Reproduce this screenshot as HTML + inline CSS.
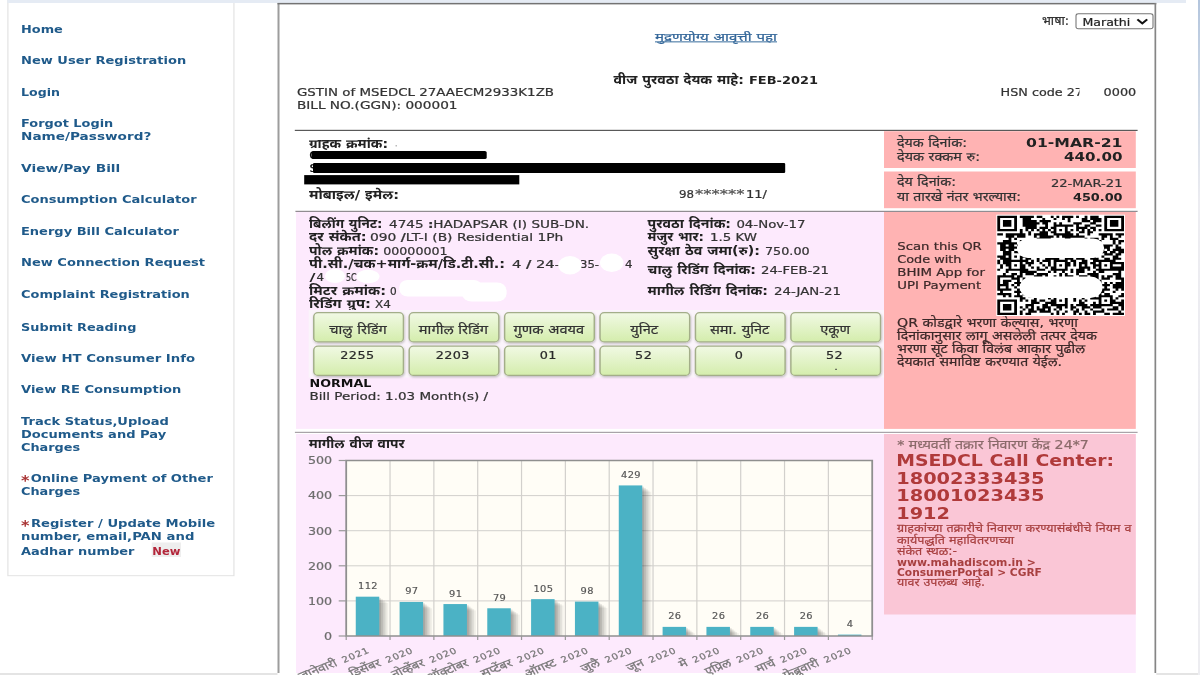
<!DOCTYPE html>
<html lang="mr"><head><meta charset="utf-8"><title>MSEDCL - View/Pay Bill</title>
<style>
html,body{margin:0;padding:0;background:#fff;overflow:hidden;width:1200px;height:675px}
svg{display:block}
</style></head><body>
<svg width="1200" height="675" viewBox="0 0 1200 675">
<defs>
<linearGradient id="rs" x1="0" y1="0" x2="0" y2="1"><stop offset="0" stop-color="#b3c5dd"/><stop offset="0.16" stop-color="#d3dce8"/><stop offset="0.3" stop-color="#ececf1"/><stop offset="1" stop-color="#ededf1"/></linearGradient>
<linearGradient id="cg" x1="0" y1="0" x2="0" y2="1">
<stop offset="0" stop-color="#f1f9e4"/><stop offset="1" stop-color="#d4edac"/>
</linearGradient>
<filter id="sh" x="-10%" y="-10%" width="120%" height="140%">
<feDropShadow dx="0.5" dy="1.2" stdDeviation="0.8" flood-color="#000" flood-opacity="0.25"/>
</filter>
</defs>
<g transform="scale(1.2 1)">
<rect x="998.33" y="0" width="1.67" height="675" fill="url(#rs)" />
<rect x="0.0" y="673" width="998.33" height="2" fill="#e4e4e4" />
<rect x="6.57" y="-2" width="188.36999999999998" height="577.7" fill="#fff" stroke="#e3e3e3" stroke-width="1"/>
<rect x="6.17" y="0" width="982.17" height="3" fill="#e5ebf4" />
<text x="17.5" y="33.0" textLength="34.83" lengthAdjust="spacingAndGlyphs" fill="#1f5a8a" style="font-family:'DejaVu Sans',Verdana,sans-serif;font-size:10.67px;font-weight:bold" >Home</text>
<text x="17.5" y="64.3" textLength="137.75" lengthAdjust="spacingAndGlyphs" fill="#1f5a8a" style="font-family:'DejaVu Sans',Verdana,sans-serif;font-size:10.67px;font-weight:bold" >New User Registration</text>
<text x="17.5" y="96.3" textLength="32.5" lengthAdjust="spacingAndGlyphs" fill="#1f5a8a" style="font-family:'DejaVu Sans',Verdana,sans-serif;font-size:10.67px;font-weight:bold" >Login</text>
<text x="17.5" y="127.5" textLength="76.92" lengthAdjust="spacingAndGlyphs" fill="#1f5a8a" style="font-family:'DejaVu Sans',Verdana,sans-serif;font-size:10.67px;font-weight:bold" >Forgot Login</text>
<text x="17.5" y="140.4" textLength="108.58" lengthAdjust="spacingAndGlyphs" fill="#1f5a8a" style="font-family:'DejaVu Sans',Verdana,sans-serif;font-size:10.67px;font-weight:bold" >Name/Password?</text>
<text x="17.5" y="172.2" textLength="82.75" lengthAdjust="spacingAndGlyphs" fill="#1f5a8a" style="font-family:'DejaVu Sans',Verdana,sans-serif;font-size:10.67px;font-weight:bold" >View/Pay Bill</text>
<text x="17.5" y="203.5" textLength="146.33" lengthAdjust="spacingAndGlyphs" fill="#1f5a8a" style="font-family:'DejaVu Sans',Verdana,sans-serif;font-size:10.67px;font-weight:bold" >Consumption Calculator</text>
<text x="17.5" y="235.3" textLength="131.58" lengthAdjust="spacingAndGlyphs" fill="#1f5a8a" style="font-family:'DejaVu Sans',Verdana,sans-serif;font-size:10.67px;font-weight:bold" >Energy Bill Calculator</text>
<text x="17.5" y="266.4" textLength="153.33" lengthAdjust="spacingAndGlyphs" fill="#1f5a8a" style="font-family:'DejaVu Sans',Verdana,sans-serif;font-size:10.67px;font-weight:bold" >New Connection Request</text>
<text x="17.5" y="298.3" textLength="140.67" lengthAdjust="spacingAndGlyphs" fill="#1f5a8a" style="font-family:'DejaVu Sans',Verdana,sans-serif;font-size:10.67px;font-weight:bold" >Complaint Registration</text>
<text x="17.5" y="330.6" textLength="96.17" lengthAdjust="spacingAndGlyphs" fill="#1f5a8a" style="font-family:'DejaVu Sans',Verdana,sans-serif;font-size:10.67px;font-weight:bold" >Submit Reading</text>
<text x="17.5" y="361.9" textLength="145.08" lengthAdjust="spacingAndGlyphs" fill="#1f5a8a" style="font-family:'DejaVu Sans',Verdana,sans-serif;font-size:10.67px;font-weight:bold" >View HT Consumer Info</text>
<text x="17.5" y="392.9" textLength="133.67" lengthAdjust="spacingAndGlyphs" fill="#1f5a8a" style="font-family:'DejaVu Sans',Verdana,sans-serif;font-size:10.67px;font-weight:bold" >View RE Consumption</text>
<text x="17.5" y="425.1" textLength="123.25" lengthAdjust="spacingAndGlyphs" fill="#1f5a8a" style="font-family:'DejaVu Sans',Verdana,sans-serif;font-size:10.67px;font-weight:bold" >Track Status,Upload</text>
<text x="17.5" y="438.2" textLength="121.0" lengthAdjust="spacingAndGlyphs" fill="#1f5a8a" style="font-family:'DejaVu Sans',Verdana,sans-serif;font-size:10.67px;font-weight:bold" >Documents and Pay</text>
<text x="17.5" y="451.0" textLength="49.33" lengthAdjust="spacingAndGlyphs" fill="#1f5a8a" style="font-family:'DejaVu Sans',Verdana,sans-serif;font-size:10.67px;font-weight:bold" >Charges</text>
<text x="17.5" y="495.2" textLength="49.33" lengthAdjust="spacingAndGlyphs" fill="#1f5a8a" style="font-family:'DejaVu Sans',Verdana,sans-serif;font-size:10.67px;font-weight:bold" >Charges</text>
<text x="17.5" y="539.7" textLength="144.5" lengthAdjust="spacingAndGlyphs" fill="#1f5a8a" style="font-family:'DejaVu Sans',Verdana,sans-serif;font-size:10.67px;font-weight:bold" >number, email,PAN and</text>
<text x="17.5" y="555.2" textLength="94.5" lengthAdjust="spacingAndGlyphs" fill="#1f5a8a" style="font-family:'DejaVu Sans',Verdana,sans-serif;font-size:10.67px;font-weight:bold" >Aadhar number</text>
<text x="25.58" y="482.3" textLength="151.83" lengthAdjust="spacingAndGlyphs" fill="#1f5a8a" style="font-family:'DejaVu Sans',Verdana,sans-serif;font-size:10.67px;font-weight:bold" >Online Payment of Other</text>
<text x="25.75" y="526.7" textLength="153.5" lengthAdjust="spacingAndGlyphs" fill="#1f5a8a" style="font-family:'DejaVu Sans',Verdana,sans-serif;font-size:10.67px;font-weight:bold" >Register / Update Mobile</text>
<text x="17.5" y="485.5" fill="#a83232" style="font-family:'DejaVu Sans',Verdana,sans-serif;font-size:13.5px;font-weight:bold">*</text>
<text x="17.5" y="529.9000000000001" fill="#a83232" style="font-family:'DejaVu Sans',Verdana,sans-serif;font-size:13.5px;font-weight:bold">*</text>
<rect x="126.42" y="542.5" width="24.42" height="14.5" fill="#eeeeee" />
<text x="126.92" y="555.2" textLength="23.42" lengthAdjust="spacingAndGlyphs" fill="#b3263a" style="font-family:'DejaVu Sans',Verdana,sans-serif;font-size:10.67px;font-weight:bold" >New</text>
<rect x="231.25" y="3" width="732.33" height="672" fill="#fff" />
<rect x="231.25" y="3" width="1.67" height="670" fill="#9d9d9d" />
<rect x="231.25" y="2.9" width="732.33" height="1.5" fill="#737373" />
<rect x="962.08" y="3" width="1.42" height="670" fill="#858585" />
<text x="545.83" y="40.6" stroke="#336699" stroke-width="0.22" textLength="101.67" lengthAdjust="spacingAndGlyphs" fill="#336699" style="font-family:'DejaVu Sans','Noto Sans Devanagari','Noto Sans CJK SC',sans-serif;font-size:10.6px;font-weight:normal" >मुद्रणयोग्य आवृत्ती पहा</text>
<rect x="545.83" y="41.3" width="101.67" height="1.1" fill="#4a7aa6" />
<text x="868.33" y="24.8" stroke="#333" stroke-width="0.22" textLength="22.5" lengthAdjust="spacingAndGlyphs" fill="#333" style="font-family:'DejaVu Sans','Noto Sans Devanagari','Noto Sans CJK SC',sans-serif;font-size:12.2px;font-weight:normal" >भाषा:</text>
<rect x="896.67" y="13.7" width="64.17" height="15" rx="2" fill="#fff" stroke="#767676" stroke-width="0.9"/>
<text x="902.08" y="25.6" stroke="#222" stroke-width="0.22" textLength="39.75" lengthAdjust="spacingAndGlyphs" fill="#222" style="font-family:'DejaVu Sans',Verdana,sans-serif;font-size:10.67px;font-weight:normal" >Marathi</text>
<polyline points="947.83,19.4 951.92,23.4 956.0,19.4" fill="none" stroke="#111" stroke-width="1.9"/>
<text x="511.33" y="83.6" textLength="108.67" lengthAdjust="spacingAndGlyphs" fill="#222" style="font-family:'DejaVu Sans','Noto Sans Devanagari','Noto Sans CJK SC',sans-serif;font-size:12.2px;font-weight:bold" >वीज पुरवठा देयक माहे:</text>
<text x="624.17" y="83.6" textLength="57.5" lengthAdjust="spacingAndGlyphs" fill="#222" style="font-family:'DejaVu Sans',Verdana,sans-serif;font-size:10.67px;font-weight:bold" >FEB-2021</text>
<text x="247.5" y="95.7" stroke="#333" stroke-width="0.22" textLength="214.17" lengthAdjust="spacingAndGlyphs" fill="#333" style="font-family:'DejaVu Sans',Verdana,sans-serif;font-size:10.67px;font-weight:normal" >GSTIN of MSEDCL 27AAECM2933K1ZB</text>
<text x="247.5" y="108.6" stroke="#333" stroke-width="0.22" textLength="133.75" lengthAdjust="spacingAndGlyphs" fill="#333" style="font-family:'DejaVu Sans',Verdana,sans-serif;font-size:10.67px;font-weight:normal" >BILL NO.(GGN): 000001</text>
<text x="833.83" y="96" stroke="#333" stroke-width="0.22" textLength="68.67" lengthAdjust="spacingAndGlyphs" fill="#333" style="font-family:'DejaVu Sans',Verdana,sans-serif;font-size:10.67px;font-weight:normal" >HSN code 27</text>
<rect x="899.58" y="85" width="17.92" height="14" fill="#fff" />
<text x="919.67" y="96" stroke="#333" stroke-width="0.22" textLength="27.17" lengthAdjust="spacingAndGlyphs" fill="#333" style="font-family:'DejaVu Sans',Verdana,sans-serif;font-size:10.67px;font-weight:normal" >0000</text>
<rect x="245.67" y="129.8" width="702.33" height="1.2" fill="#595959" />
<text x="257.5" y="147.6" textLength="65.83" lengthAdjust="spacingAndGlyphs" fill="#222" style="font-family:'DejaVu Sans','Noto Sans Devanagari','Noto Sans CJK SC',sans-serif;font-size:12.2px;font-weight:bold" >ग्राहक क्रमांक:</text>
<text x="257.67" y="158.8" stroke="#000" stroke-width="0.22" fill="#000" style="font-family:'DejaVu Sans',Verdana,sans-serif;font-size:10.67px;font-weight:normal" >C</text>
<rect x="259.83" y="151" width="145.75" height="7.9" rx="1.5" fill="#000"/>
<text x="257.83" y="172.1" stroke="#000" stroke-width="0.22" fill="#000" style="font-family:'DejaVu Sans',Verdana,sans-serif;font-size:10.67px;font-weight:normal" >S</text>
<rect x="260.83" y="163.1" width="393.5" height="9.8" rx="1" fill="#000"/>
<rect x="253.5" y="175.1" width="179.25" height="9.3" fill="#000" />
<rect x="329.58" y="145" width="1.25" height="1.5" fill="#bbb" />
<text x="257.5" y="198.7" textLength="75.0" lengthAdjust="spacingAndGlyphs" fill="#222" style="font-family:'DejaVu Sans','Noto Sans Devanagari','Noto Sans CJK SC',sans-serif;font-size:12.2px;font-weight:bold" >मोबाइल/ इमेल:</text>
<text x="565.83" y="198.5" stroke="#333" stroke-width="0.22" textLength="12.5" lengthAdjust="spacingAndGlyphs" fill="#333" style="font-family:'DejaVu Sans',Verdana,sans-serif;font-size:10.67px;font-weight:normal" >98</text>
<text x="579.17" y="198.5" stroke="#555" stroke-width="0.22" textLength="41.25" lengthAdjust="spacingAndGlyphs" fill="#555" style="font-family:'DejaVu Sans',Verdana,sans-serif;font-size:12.5px;font-weight:normal" >******</text>
<text x="621.67" y="198.5" stroke="#333" stroke-width="0.22" textLength="17.5" lengthAdjust="spacingAndGlyphs" fill="#333" style="font-family:'DejaVu Sans',Verdana,sans-serif;font-size:10.67px;font-weight:normal" >11/</text>
<rect x="736.67" y="131.2" width="209.83" height="36.8" fill="#ffb3b3" />
<rect x="736.67" y="171.5" width="209.83" height="36.7" fill="#ffb3b3" />
<text x="747.5" y="147.0" stroke="#333" stroke-width="0.22" textLength="58.33" lengthAdjust="spacingAndGlyphs" fill="#333" style="font-family:'DejaVu Sans','Noto Sans Devanagari','Noto Sans CJK SC',sans-serif;font-size:12.2px;font-weight:normal" >देयक दिनांक:</text>
<text x="855.0" y="147.4" textLength="80.42" lengthAdjust="spacingAndGlyphs" fill="#222" style="font-family:'DejaVu Sans',Verdana,sans-serif;font-size:12.0px;font-weight:bold" >01-MAR-21</text>
<text x="747.5" y="160.8" stroke="#333" stroke-width="0.22" textLength="69.17" lengthAdjust="spacingAndGlyphs" fill="#333" style="font-family:'DejaVu Sans','Noto Sans Devanagari','Noto Sans CJK SC',sans-serif;font-size:12.2px;font-weight:normal" >देयक रक्कम रु:</text>
<text x="886.67" y="161.2" textLength="48.75" lengthAdjust="spacingAndGlyphs" fill="#222" style="font-family:'DejaVu Sans',Verdana,sans-serif;font-size:12.0px;font-weight:bold" >440.00</text>
<text x="747.5" y="186.5" stroke="#333" stroke-width="0.22" textLength="49.17" lengthAdjust="spacingAndGlyphs" fill="#333" style="font-family:'DejaVu Sans','Noto Sans Devanagari','Noto Sans CJK SC',sans-serif;font-size:12.2px;font-weight:normal" >देय दिनांक:</text>
<text x="875.83" y="186.6" stroke="#333" stroke-width="0.22" textLength="59.58" lengthAdjust="spacingAndGlyphs" fill="#333" style="font-family:'DejaVu Sans',Verdana,sans-serif;font-size:10.67px;font-weight:normal" >22-MAR-21</text>
<text x="747.5" y="200.7" stroke="#333" stroke-width="0.22" textLength="103.33" lengthAdjust="spacingAndGlyphs" fill="#333" style="font-family:'DejaVu Sans','Noto Sans Devanagari','Noto Sans CJK SC',sans-serif;font-size:12.2px;font-weight:normal" >या तारखे नंतर भरल्यास:</text>
<text x="894.17" y="200.8" textLength="41.25" lengthAdjust="spacingAndGlyphs" fill="#222" style="font-family:'DejaVu Sans',Verdana,sans-serif;font-size:10.67px;font-weight:bold" >450.00</text>
<rect x="246.17" y="210.8" width="701.83" height="1.1" fill="#858085" />
<rect x="246.67" y="212.0" width="490.0" height="216.9" fill="#fdeafd" />
<rect x="736.67" y="212.0" width="209.83" height="216.9" fill="#ffb3b3" />
<text x="257.5" y="227.9" textLength="61.25" lengthAdjust="spacingAndGlyphs" fill="#222" style="font-family:'DejaVu Sans','Noto Sans Devanagari','Noto Sans CJK SC',sans-serif;font-size:12.2px;font-weight:bold" >बिलींग युनिट:</text>
<text x="324.17" y="227.9" stroke="#333" stroke-width="0.22" textLength="166.83" lengthAdjust="spacingAndGlyphs" fill="#333" style="font-family:'DejaVu Sans',Verdana,sans-serif;font-size:10.67px;font-weight:normal" >4745 <tspan style="font-weight:bold">:</tspan>HADAPSAR (I) SUB-DN.</text>
<text x="257.5" y="241.29999999999998" textLength="48.08" lengthAdjust="spacingAndGlyphs" fill="#222" style="font-family:'DejaVu Sans','Noto Sans Devanagari','Noto Sans CJK SC',sans-serif;font-size:12.2px;font-weight:bold" >दर संकेत:</text>
<text x="308.33" y="241.29999999999998" stroke="#333" stroke-width="0.22" textLength="161.08" lengthAdjust="spacingAndGlyphs" fill="#333" style="font-family:'DejaVu Sans',Verdana,sans-serif;font-size:10.67px;font-weight:normal" >090 <tspan style="font-weight:bold">/</tspan>LT-I (B) Residential 1Ph</text>
<text x="257.5" y="255.1" textLength="58.33" lengthAdjust="spacingAndGlyphs" fill="#222" style="font-family:'DejaVu Sans','Noto Sans Devanagari','Noto Sans CJK SC',sans-serif;font-size:12.2px;font-weight:bold" >पोल क्रमांक:</text>
<text x="319.42" y="255.1" stroke="#333" stroke-width="0.22" textLength="53.5" lengthAdjust="spacingAndGlyphs" fill="#333" style="font-family:'DejaVu Sans',Verdana,sans-serif;font-size:10.67px;font-weight:normal" >00000001</text>
<text x="257.5" y="295.1" textLength="64.17" lengthAdjust="spacingAndGlyphs" fill="#222" style="font-family:'DejaVu Sans','Noto Sans Devanagari','Noto Sans CJK SC',sans-serif;font-size:12.2px;font-weight:bold" >मिटर क्रमांक:</text>
<text x="325.0" y="295.1" stroke="#333" stroke-width="0.22" textLength="5.58" lengthAdjust="spacingAndGlyphs" fill="#333" style="font-family:'DejaVu Sans',Verdana,sans-serif;font-size:10.67px;font-weight:normal" >0</text>
<text x="257.5" y="308.40000000000003" textLength="51.67" lengthAdjust="spacingAndGlyphs" fill="#222" style="font-family:'DejaVu Sans','Noto Sans Devanagari','Noto Sans CJK SC',sans-serif;font-size:12.2px;font-weight:bold" >रिडिंग ग्रुप:</text>
<text x="312.5" y="308.40000000000003" stroke="#333" stroke-width="0.22" textLength="13.17" lengthAdjust="spacingAndGlyphs" fill="#333" style="font-family:'DejaVu Sans',Verdana,sans-serif;font-size:10.67px;font-weight:normal" >X4</text>
<text x="257.5" y="268.4" textLength="163.33" lengthAdjust="spacingAndGlyphs" fill="#222" style="font-family:'DejaVu Sans','Noto Sans Devanagari','Noto Sans CJK SC',sans-serif;font-size:12.2px;font-weight:bold" >पी.सी./चक+मार्ग-क्रम/डि.टी.सी.:</text>
<text x="426.67" y="268.4" stroke="#333" stroke-width="0.22" textLength="40.0" lengthAdjust="spacingAndGlyphs" fill="#333" style="font-family:'DejaVu Sans',Verdana,sans-serif;font-size:10.67px;font-weight:normal" >4 <tspan style="font-weight:bold">/</tspan> 24-</text>
<text x="483.33" y="268.4" stroke="#333" stroke-width="0.22" textLength="15.83" lengthAdjust="spacingAndGlyphs" fill="#333" style="font-family:'DejaVu Sans',Verdana,sans-serif;font-size:10.67px;font-weight:normal" >35-</text>
<text x="520.83" y="268.4" stroke="#333" stroke-width="0.22" textLength="6.25" lengthAdjust="spacingAndGlyphs" fill="#333" style="font-family:'DejaVu Sans',Verdana,sans-serif;font-size:10.67px;font-weight:normal" >4</text>
<text x="257.92" y="281.3" textLength="5.0" lengthAdjust="spacingAndGlyphs" fill="#222" style="font-family:'DejaVu Sans',Verdana,sans-serif;font-size:10.67px;font-weight:bold" >/</text>
<text x="263.75" y="281.3" stroke="#333" stroke-width="0.22" textLength="6.25" lengthAdjust="spacingAndGlyphs" fill="#333" style="font-family:'DejaVu Sans',Verdana,sans-serif;font-size:10.67px;font-weight:normal" >4</text>
<text x="288.33" y="281.3" stroke="#333" stroke-width="0.22" textLength="8.92" lengthAdjust="spacingAndGlyphs" fill="#333" style="font-family:'DejaVu Sans',Verdana,sans-serif;font-size:10.67px;font-weight:normal" >5C</text>
<ellipse cx="475.0" cy="265.3" rx="9.75" ry="9.2" fill="#fff"/>
<ellipse cx="509.75" cy="262.8" rx="9.75" ry="9.2" fill="#fff"/>
<ellipse cx="279.17" cy="276" rx="8.33" ry="7" fill="#fff"/>
<ellipse cx="306.67" cy="276.5" rx="9.58" ry="6.8" fill="#fff"/>
<rect x="332.75" y="280" width="68.92" height="16.5" rx="7" fill="#fff"/>
<rect x="385.0" y="282.5" width="37.17" height="19" rx="8" fill="#fff"/>
<text x="539.67" y="228.2" textLength="69.5" lengthAdjust="spacingAndGlyphs" fill="#222" style="font-family:'DejaVu Sans','Noto Sans Devanagari','Noto Sans CJK SC',sans-serif;font-size:12.2px;font-weight:bold" >पुरवठा दिनांक:</text>
<text x="613.67" y="228.2" stroke="#333" stroke-width="0.22" textLength="57.67" lengthAdjust="spacingAndGlyphs" fill="#333" style="font-family:'DejaVu Sans',Verdana,sans-serif;font-size:10.67px;font-weight:normal" >04-Nov-17</text>
<text x="539.67" y="241.2" textLength="47.0" lengthAdjust="spacingAndGlyphs" fill="#222" style="font-family:'DejaVu Sans','Noto Sans Devanagari','Noto Sans CJK SC',sans-serif;font-size:12.2px;font-weight:bold" >मंजुर भार:</text>
<text x="591.67" y="241.2" stroke="#333" stroke-width="0.22" textLength="39.17" lengthAdjust="spacingAndGlyphs" fill="#333" style="font-family:'DejaVu Sans',Verdana,sans-serif;font-size:10.67px;font-weight:normal" >1.5 KW</text>
<text x="539.67" y="255.0" textLength="93.67" lengthAdjust="spacingAndGlyphs" fill="#222" style="font-family:'DejaVu Sans','Noto Sans Devanagari','Noto Sans CJK SC',sans-serif;font-size:12.2px;font-weight:bold" >सुरक्षा ठेव जमा(रु):</text>
<text x="637.5" y="255.0" stroke="#333" stroke-width="0.22" textLength="37.17" lengthAdjust="spacingAndGlyphs" fill="#333" style="font-family:'DejaVu Sans',Verdana,sans-serif;font-size:10.67px;font-weight:normal" >750.00</text>
<text x="539.67" y="274.20000000000005" textLength="90.33" lengthAdjust="spacingAndGlyphs" fill="#222" style="font-family:'DejaVu Sans','Noto Sans Devanagari','Noto Sans CJK SC',sans-serif;font-size:12.2px;font-weight:bold" >चालु रिडिंग दिनांक:</text>
<text x="634.17" y="274.20000000000005" stroke="#333" stroke-width="0.22" textLength="56.67" lengthAdjust="spacingAndGlyphs" fill="#333" style="font-family:'DejaVu Sans',Verdana,sans-serif;font-size:10.67px;font-weight:normal" >24-FEB-21</text>
<text x="539.67" y="295.0" textLength="100.33" lengthAdjust="spacingAndGlyphs" fill="#222" style="font-family:'DejaVu Sans','Noto Sans Devanagari','Noto Sans CJK SC',sans-serif;font-size:12.2px;font-weight:bold" >मागील रिडिंग दिनांक:</text>
<text x="645.0" y="295.0" stroke="#333" stroke-width="0.22" textLength="55.83" lengthAdjust="spacingAndGlyphs" fill="#333" style="font-family:'DejaVu Sans',Verdana,sans-serif;font-size:10.67px;font-weight:normal" >24-JAN-21</text>
<rect x="257.25" y="310" width="479.42" height="67.5" fill="#fbf4fb" />
<rect x="261.47999999999996" y="312.7" width="74.7" height="29.2" rx="3.5" ry="4" fill="url(#cg)" stroke="#a3ae89" stroke-width="1.2" filter="url(#sh)"/>
<text x="298.33" y="333.7" text-anchor="middle" fill="#333" stroke="#333" stroke-width="0.2" style="font-family:'DejaVu Sans','Noto Sans Devanagari','Noto Sans CJK SC',sans-serif;font-size:12.2px">चालु रिडिंग</text>
<rect x="261.47999999999996" y="346.1" width="74.7" height="29.3" rx="3.5" ry="4" fill="url(#cg)" stroke="#a3ae89" stroke-width="1.2" filter="url(#sh)"/>
<text x="297.83" y="358.8" text-anchor="middle" fill="#2a2a2a" stroke="#2a2a2a" stroke-width="0.22" letter-spacing="0.35" style="font-family:'DejaVu Sans',Verdana,sans-serif;font-size:10.67px">2255</text>
<rect x="341.0" y="312.7" width="74.7" height="29.2" rx="3.5" ry="4" fill="url(#cg)" stroke="#a3ae89" stroke-width="1.2" filter="url(#sh)"/>
<text x="377.85" y="333.7" text-anchor="middle" fill="#333" stroke="#333" stroke-width="0.2" style="font-family:'DejaVu Sans','Noto Sans Devanagari','Noto Sans CJK SC',sans-serif;font-size:12.2px">मागील रिडिंग</text>
<rect x="341.0" y="346.1" width="74.7" height="29.3" rx="3.5" ry="4" fill="url(#cg)" stroke="#a3ae89" stroke-width="1.2" filter="url(#sh)"/>
<text x="377.35" y="358.8" text-anchor="middle" fill="#2a2a2a" stroke="#2a2a2a" stroke-width="0.22" letter-spacing="0.35" style="font-family:'DejaVu Sans',Verdana,sans-serif;font-size:10.67px">2203</text>
<rect x="420.52" y="312.7" width="74.7" height="29.2" rx="3.5" ry="4" fill="url(#cg)" stroke="#a3ae89" stroke-width="1.2" filter="url(#sh)"/>
<text x="457.37" y="333.7" text-anchor="middle" fill="#333" stroke="#333" stroke-width="0.2" style="font-family:'DejaVu Sans','Noto Sans Devanagari','Noto Sans CJK SC',sans-serif;font-size:12.2px">गुणक अवयव</text>
<rect x="420.52" y="346.1" width="74.7" height="29.3" rx="3.5" ry="4" fill="url(#cg)" stroke="#a3ae89" stroke-width="1.2" filter="url(#sh)"/>
<text x="456.87" y="358.8" text-anchor="middle" fill="#2a2a2a" stroke="#2a2a2a" stroke-width="0.22" letter-spacing="0.35" style="font-family:'DejaVu Sans',Verdana,sans-serif;font-size:10.67px">01</text>
<rect x="500.03" y="312.7" width="74.7" height="29.2" rx="3.5" ry="4" fill="url(#cg)" stroke="#a3ae89" stroke-width="1.2" filter="url(#sh)"/>
<text x="536.88" y="333.7" text-anchor="middle" fill="#333" stroke="#333" stroke-width="0.2" style="font-family:'DejaVu Sans','Noto Sans Devanagari','Noto Sans CJK SC',sans-serif;font-size:12.2px">युनिट</text>
<rect x="500.03" y="346.1" width="74.7" height="29.3" rx="3.5" ry="4" fill="url(#cg)" stroke="#a3ae89" stroke-width="1.2" filter="url(#sh)"/>
<text x="536.38" y="358.8" text-anchor="middle" fill="#2a2a2a" stroke="#2a2a2a" stroke-width="0.22" letter-spacing="0.35" style="font-family:'DejaVu Sans',Verdana,sans-serif;font-size:10.67px">52</text>
<rect x="579.55" y="312.7" width="74.7" height="29.2" rx="3.5" ry="4" fill="url(#cg)" stroke="#a3ae89" stroke-width="1.2" filter="url(#sh)"/>
<text x="616.4" y="333.7" text-anchor="middle" fill="#333" stroke="#333" stroke-width="0.2" style="font-family:'DejaVu Sans','Noto Sans Devanagari','Noto Sans CJK SC',sans-serif;font-size:12.2px">समा. युनिट</text>
<rect x="579.55" y="346.1" width="74.7" height="29.3" rx="3.5" ry="4" fill="url(#cg)" stroke="#a3ae89" stroke-width="1.2" filter="url(#sh)"/>
<text x="615.9" y="358.8" text-anchor="middle" fill="#2a2a2a" stroke="#2a2a2a" stroke-width="0.22" letter-spacing="0.35" style="font-family:'DejaVu Sans',Verdana,sans-serif;font-size:10.67px">0</text>
<rect x="659.0699999999999" y="312.7" width="74.7" height="29.2" rx="3.5" ry="4" fill="url(#cg)" stroke="#a3ae89" stroke-width="1.2" filter="url(#sh)"/>
<text x="695.92" y="333.7" text-anchor="middle" fill="#333" stroke="#333" stroke-width="0.2" style="font-family:'DejaVu Sans','Noto Sans Devanagari','Noto Sans CJK SC',sans-serif;font-size:12.2px">एकूण</text>
<rect x="659.0699999999999" y="346.1" width="74.7" height="29.3" rx="3.5" ry="4" fill="url(#cg)" stroke="#a3ae89" stroke-width="1.2" filter="url(#sh)"/>
<text x="695.42" y="358.8" text-anchor="middle" fill="#2a2a2a" stroke="#2a2a2a" stroke-width="0.22" letter-spacing="0.35" style="font-family:'DejaVu Sans',Verdana,sans-serif;font-size:10.67px">52</text>
<text x="696.67" y="370" text-anchor="middle" fill="#333" style="font-family:'DejaVu Sans',Verdana,sans-serif;font-size:10.67px">.</text>
<text x="257.92" y="387.4" textLength="51.67" lengthAdjust="spacingAndGlyphs" fill="#111" style="font-family:'DejaVu Sans',Verdana,sans-serif;font-size:10.67px;font-weight:bold" >NORMAL</text>
<text x="257.92" y="400.3" stroke="#333" stroke-width="0.22" textLength="148.75" lengthAdjust="spacingAndGlyphs" fill="#333" style="font-family:'DejaVu Sans',Verdana,sans-serif;font-size:10.67px;font-weight:normal" >Bill Period: 1.03 Month(s) /</text>
<text x="747.75" y="249.7" stroke="#3d2a2a" stroke-width="0.22" textLength="70.42" lengthAdjust="spacingAndGlyphs" fill="#3d2a2a" style="font-family:'DejaVu Sans',Verdana,sans-serif;font-size:10.67px;font-weight:normal" >Scan this QR</text>
<text x="747.75" y="262.7" stroke="#3d2a2a" stroke-width="0.22" textLength="53.5" lengthAdjust="spacingAndGlyphs" fill="#3d2a2a" style="font-family:'DejaVu Sans',Verdana,sans-serif;font-size:10.67px;font-weight:normal" >Code with</text>
<text x="747.75" y="275.6" stroke="#3d2a2a" stroke-width="0.22" textLength="73.0" lengthAdjust="spacingAndGlyphs" fill="#3d2a2a" style="font-family:'DejaVu Sans',Verdana,sans-serif;font-size:10.67px;font-weight:normal" >BHIM App for</text>
<text x="747.75" y="288.6" stroke="#3d2a2a" stroke-width="0.22" textLength="69.92" lengthAdjust="spacingAndGlyphs" fill="#3d2a2a" style="font-family:'DejaVu Sans',Verdana,sans-serif;font-size:10.67px;font-weight:normal" >UPI Payment</text>
<text x="747.5" y="326.7" stroke="#3d2a2a" stroke-width="0.22" textLength="150.83" lengthAdjust="spacingAndGlyphs" fill="#3d2a2a" style="font-family:'DejaVu Sans','Noto Sans Devanagari','Noto Sans CJK SC',sans-serif;font-size:12.2px;font-weight:normal" >QR कोडद्वारे भरणा केल्यास, भरणा</text>
<text x="747.5" y="339.9" stroke="#3d2a2a" stroke-width="0.22" textLength="166.67" lengthAdjust="spacingAndGlyphs" fill="#3d2a2a" style="font-family:'DejaVu Sans','Noto Sans Devanagari','Noto Sans CJK SC',sans-serif;font-size:12.2px;font-weight:normal" >दिनांकानुसार लागू असलेली तत्पर देयक</text>
<text x="747.5" y="353.1" stroke="#3d2a2a" stroke-width="0.22" textLength="156.67" lengthAdjust="spacingAndGlyphs" fill="#3d2a2a" style="font-family:'DejaVu Sans','Noto Sans Devanagari','Noto Sans CJK SC',sans-serif;font-size:12.2px;font-weight:normal" >भरणा सूट किवा विलंब आकार पुढील</text>
<text x="747.5" y="366.3" stroke="#3d2a2a" stroke-width="0.22" textLength="137.5" lengthAdjust="spacingAndGlyphs" fill="#3d2a2a" style="font-family:'DejaVu Sans','Noto Sans Devanagari','Noto Sans CJK SC',sans-serif;font-size:12.2px;font-weight:normal" >देयकात समाविष्ट करण्यात येईल.</text>
<rect x="830.25" y="214.7" width="107.25" height="101.3" fill="#fff" />
<path d="M831.08 215.7h16.42v2.21h-16.42zM849.85 215.7h11.73v2.21h-11.73zM863.93 215.7h4.69v2.21h-4.69zM875.66 215.7h2.35v2.21h-2.35zM880.36 215.7h2.35v2.21h-2.35zM885.05 215.7h9.39v2.21h-9.39zM896.78 215.7h2.35v2.21h-2.35zM903.82 215.7h2.35v2.21h-2.35zM908.51 215.7h7.04v2.21h-7.04zM920.24 215.7h16.42v2.21h-16.42zM831.08 217.91h2.35v2.21h-2.35zM845.16 217.91h2.35v2.21h-2.35zM852.2 217.91h7.04v2.21h-7.04zM868.62 217.91h2.35v2.21h-2.35zM878.01 217.91h2.35v2.21h-2.35zM885.05 217.91h2.35v2.21h-2.35zM889.74 217.91h2.35v2.21h-2.35zM901.47 217.91h4.69v2.21h-4.69zM908.51 217.91h9.39v2.21h-9.39zM920.24 217.91h2.35v2.21h-2.35zM934.32 217.91h2.35v2.21h-2.35zM831.08 220.11h2.35v2.21h-2.35zM835.78 220.11h7.04v2.21h-7.04zM845.16 220.11h2.35v2.21h-2.35zM852.2 220.11h11.73v2.21h-11.73zM866.28 220.11h9.39v2.21h-9.39zM889.74 220.11h2.35v2.21h-2.35zM901.47 220.11h7.04v2.21h-7.04zM910.86 220.11h7.04v2.21h-7.04zM920.24 220.11h2.35v2.21h-2.35zM924.94 220.11h7.04v2.21h-7.04zM934.32 220.11h2.35v2.21h-2.35zM831.08 222.32h2.35v2.21h-2.35zM835.78 222.32h7.04v2.21h-7.04zM845.16 222.32h2.35v2.21h-2.35zM852.2 222.32h14.08v2.21h-14.08zM868.62 222.32h4.69v2.21h-4.69zM878.01 222.32h2.35v2.21h-2.35zM882.7 222.32h2.35v2.21h-2.35zM894.43 222.32h7.04v2.21h-7.04zM908.51 222.32h4.69v2.21h-4.69zM920.24 222.32h2.35v2.21h-2.35zM924.94 222.32h7.04v2.21h-7.04zM934.32 222.32h2.35v2.21h-2.35zM831.08 224.53h2.35v2.21h-2.35zM835.78 224.53h7.04v2.21h-7.04zM845.16 224.53h2.35v2.21h-2.35zM852.2 224.53h11.73v2.21h-11.73zM870.97 224.53h2.35v2.21h-2.35zM878.01 224.53h16.42v2.21h-16.42zM896.78 224.53h2.35v2.21h-2.35zM903.82 224.53h4.69v2.21h-4.69zM913.2 224.53h4.69v2.21h-4.69zM920.24 224.53h2.35v2.21h-2.35zM924.94 224.53h7.04v2.21h-7.04zM934.32 224.53h2.35v2.21h-2.35zM831.08 226.73h2.35v2.21h-2.35zM845.16 226.73h2.35v2.21h-2.35zM854.55 226.73h9.39v2.21h-9.39zM866.28 226.73h7.04v2.21h-7.04zM875.66 226.73h4.69v2.21h-4.69zM887.39 226.73h2.35v2.21h-2.35zM896.78 226.73h9.39v2.21h-9.39zM908.51 226.73h4.69v2.21h-4.69zM920.24 226.73h2.35v2.21h-2.35zM934.32 226.73h2.35v2.21h-2.35zM831.08 228.94h16.42v2.21h-16.42zM849.85 228.94h2.35v2.21h-2.35zM854.55 228.94h2.35v2.21h-2.35zM859.24 228.94h2.35v2.21h-2.35zM863.93 228.94h2.35v2.21h-2.35zM868.62 228.94h2.35v2.21h-2.35zM873.32 228.94h2.35v2.21h-2.35zM878.01 228.94h2.35v2.21h-2.35zM882.7 228.94h2.35v2.21h-2.35zM887.39 228.94h2.35v2.21h-2.35zM892.09 228.94h2.35v2.21h-2.35zM896.78 228.94h2.35v2.21h-2.35zM901.47 228.94h2.35v2.21h-2.35zM906.16 228.94h2.35v2.21h-2.35zM910.86 228.94h2.35v2.21h-2.35zM915.55 228.94h2.35v2.21h-2.35zM920.24 228.94h16.42v2.21h-16.42zM849.85 231.15h2.35v2.21h-2.35zM856.89 231.15h2.35v2.21h-2.35zM866.28 231.15h7.04v2.21h-7.04zM875.66 231.15h4.69v2.21h-4.69zM887.39 231.15h4.69v2.21h-4.69zM899.13 231.15h4.69v2.21h-4.69zM906.16 231.15h4.69v2.21h-4.69zM831.08 233.35h4.69v2.21h-4.69zM838.12 233.35h16.42v2.21h-16.42zM856.89 233.35h2.35v2.21h-2.35zM861.59 233.35h11.73v2.21h-11.73zM878.01 233.35h16.42v2.21h-16.42zM896.78 233.35h2.35v2.21h-2.35zM906.16 233.35h2.35v2.21h-2.35zM915.55 233.35h11.73v2.21h-11.73zM929.63 233.35h7.04v2.21h-7.04zM838.12 235.56h7.04v2.21h-7.04zM847.51 235.56h7.04v2.21h-7.04zM861.59 235.56h2.35v2.21h-2.35zM866.28 235.56h11.73v2.21h-11.73zM880.36 235.56h2.35v2.21h-2.35zM885.05 235.56h18.77v2.21h-18.77zM917.9 235.56h4.69v2.21h-4.69zM924.94 235.56h2.35v2.21h-2.35zM931.97 235.56h2.35v2.21h-2.35zM840.47 237.77h2.35v2.21h-2.35zM845.16 237.77h2.35v2.21h-2.35zM863.93 237.77h11.73v2.21h-11.73zM887.39 237.77h4.69v2.21h-4.69zM903.82 237.77h2.35v2.21h-2.35zM908.51 237.77h7.04v2.21h-7.04zM917.9 237.77h2.35v2.21h-2.35zM924.94 237.77h7.04v2.21h-7.04zM835.78 239.97h7.04v2.21h-7.04zM849.85 239.97h7.04v2.21h-7.04zM863.93 239.97h2.35v2.21h-2.35zM868.62 239.97h7.04v2.21h-7.04zM878.01 239.97h2.35v2.21h-2.35zM885.05 239.97h4.69v2.21h-4.69zM894.43 239.97h7.04v2.21h-7.04zM903.82 239.97h2.35v2.21h-2.35zM908.51 239.97h2.35v2.21h-2.35zM915.55 239.97h2.35v2.21h-2.35zM927.28 239.97h2.35v2.21h-2.35zM931.97 239.97h4.69v2.21h-4.69zM831.08 242.18h16.42v2.21h-16.42zM849.85 242.18h2.35v2.21h-2.35zM856.89 242.18h2.35v2.21h-2.35zM866.28 242.18h7.04v2.21h-7.04zM878.01 242.18h11.73v2.21h-11.73zM892.09 242.18h2.35v2.21h-2.35zM896.78 242.18h4.69v2.21h-4.69zM903.82 242.18h4.69v2.21h-4.69zM927.28 242.18h2.35v2.21h-2.35zM931.97 242.18h2.35v2.21h-2.35zM833.43 244.39h4.69v2.21h-4.69zM840.47 244.39h4.69v2.21h-4.69zM847.51 244.39h2.35v2.21h-2.35zM854.55 244.39h2.35v2.21h-2.35zM859.24 244.39h2.35v2.21h-2.35zM863.93 244.39h9.39v2.21h-9.39zM875.66 244.39h4.69v2.21h-4.69zM885.05 244.39h18.77v2.21h-18.77zM910.86 244.39h4.69v2.21h-4.69zM917.9 244.39h9.39v2.21h-9.39zM929.63 244.39h2.35v2.21h-2.35zM833.43 246.59h14.08v2.21h-14.08zM852.2 246.59h4.69v2.21h-4.69zM861.59 246.59h2.35v2.21h-2.35zM866.28 246.59h4.69v2.21h-4.69zM880.36 246.59h7.04v2.21h-7.04zM901.47 246.59h2.35v2.21h-2.35zM906.16 246.59h2.35v2.21h-2.35zM910.86 246.59h2.35v2.21h-2.35zM917.9 246.59h7.04v2.21h-7.04zM929.63 246.59h4.69v2.21h-4.69zM833.43 248.8h4.69v2.21h-4.69zM840.47 248.8h4.69v2.21h-4.69zM854.55 248.8h7.04v2.21h-7.04zM866.28 248.8h7.04v2.21h-7.04zM875.66 248.8h4.69v2.21h-4.69zM885.05 248.8h9.39v2.21h-9.39zM896.78 248.8h2.35v2.21h-2.35zM906.16 248.8h2.35v2.21h-2.35zM910.86 248.8h2.35v2.21h-2.35zM915.55 248.8h4.69v2.21h-4.69zM922.59 248.8h2.35v2.21h-2.35zM927.28 248.8h9.39v2.21h-9.39zM835.78 251.01h7.04v2.21h-7.04zM845.16 251.01h9.39v2.21h-9.39zM866.28 251.01h4.69v2.21h-4.69zM875.66 251.01h2.35v2.21h-2.35zM880.36 251.01h16.42v2.21h-16.42zM899.13 251.01h2.35v2.21h-2.35zM903.82 251.01h4.69v2.21h-4.69zM913.2 251.01h9.39v2.21h-9.39zM924.94 251.01h4.69v2.21h-4.69zM931.97 251.01h4.69v2.21h-4.69zM835.78 253.21h7.04v2.21h-7.04zM852.2 253.21h4.69v2.21h-4.69zM861.59 253.21h2.35v2.21h-2.35zM866.28 253.21h7.04v2.21h-7.04zM882.7 253.21h7.04v2.21h-7.04zM894.43 253.21h9.39v2.21h-9.39zM906.16 253.21h2.35v2.21h-2.35zM920.24 253.21h7.04v2.21h-7.04zM929.63 253.21h4.69v2.21h-4.69zM831.08 255.42h7.04v2.21h-7.04zM840.47 255.42h2.35v2.21h-2.35zM845.16 255.42h2.35v2.21h-2.35zM849.85 255.42h9.39v2.21h-9.39zM861.59 255.42h7.04v2.21h-7.04zM880.36 255.42h2.35v2.21h-2.35zM885.05 255.42h2.35v2.21h-2.35zM889.74 255.42h2.35v2.21h-2.35zM894.43 255.42h9.39v2.21h-9.39zM908.51 255.42h4.69v2.21h-4.69zM917.9 255.42h2.35v2.21h-2.35zM927.28 255.42h4.69v2.21h-4.69zM833.43 257.63h9.39v2.21h-9.39zM849.85 257.63h2.35v2.21h-2.35zM854.55 257.63h4.69v2.21h-4.69zM863.93 257.63h2.35v2.21h-2.35zM870.97 257.63h11.73v2.21h-11.73zM887.39 257.63h7.04v2.21h-7.04zM896.78 257.63h7.04v2.21h-7.04zM908.51 257.63h7.04v2.21h-7.04zM920.24 257.63h4.69v2.21h-4.69zM927.28 257.63h7.04v2.21h-7.04zM831.08 259.83h2.35v2.21h-2.35zM835.78 259.83h21.12v2.21h-21.12zM859.24 259.83h2.35v2.21h-2.35zM863.93 259.83h2.35v2.21h-2.35zM868.62 259.83h7.04v2.21h-7.04zM878.01 259.83h11.73v2.21h-11.73zM892.09 259.83h4.69v2.21h-4.69zM901.47 259.83h4.69v2.21h-4.69zM910.86 259.83h18.77v2.21h-18.77zM831.08 262.04h2.35v2.21h-2.35zM835.78 262.04h7.04v2.21h-7.04zM849.85 262.04h2.35v2.21h-2.35zM854.55 262.04h7.04v2.21h-7.04zM866.28 262.04h2.35v2.21h-2.35zM873.32 262.04h2.35v2.21h-2.35zM878.01 262.04h2.35v2.21h-2.35zM887.39 262.04h4.69v2.21h-4.69zM894.43 262.04h2.35v2.21h-2.35zM899.13 262.04h7.04v2.21h-7.04zM908.51 262.04h4.69v2.21h-4.69zM915.55 262.04h2.35v2.21h-2.35zM924.94 262.04h11.73v2.21h-11.73zM833.43 264.25h2.35v2.21h-2.35zM838.12 264.25h4.69v2.21h-4.69zM845.16 264.25h2.35v2.21h-2.35zM849.85 264.25h4.69v2.21h-4.69zM856.89 264.25h2.35v2.21h-2.35zM868.62 264.25h2.35v2.21h-2.35zM873.32 264.25h2.35v2.21h-2.35zM878.01 264.25h2.35v2.21h-2.35zM882.7 264.25h2.35v2.21h-2.35zM887.39 264.25h4.69v2.21h-4.69zM894.43 264.25h2.35v2.21h-2.35zM899.13 264.25h2.35v2.21h-2.35zM903.82 264.25h2.35v2.21h-2.35zM910.86 264.25h7.04v2.21h-7.04zM920.24 264.25h2.35v2.21h-2.35zM924.94 264.25h2.35v2.21h-2.35zM934.32 264.25h2.35v2.21h-2.35zM833.43 266.45h2.35v2.21h-2.35zM840.47 266.45h2.35v2.21h-2.35zM849.85 266.45h4.69v2.21h-4.69zM859.24 266.45h2.35v2.21h-2.35zM863.93 266.45h2.35v2.21h-2.35zM870.97 266.45h2.35v2.21h-2.35zM875.66 266.45h4.69v2.21h-4.69zM887.39 266.45h2.35v2.21h-2.35zM899.13 266.45h9.39v2.21h-9.39zM910.86 266.45h2.35v2.21h-2.35zM915.55 266.45h2.35v2.21h-2.35zM924.94 266.45h11.73v2.21h-11.73zM831.08 268.66h2.35v2.21h-2.35zM838.12 268.66h18.77v2.21h-18.77zM863.93 268.66h7.04v2.21h-7.04zM875.66 268.66h14.08v2.21h-14.08zM892.09 268.66h2.35v2.21h-2.35zM896.78 268.66h7.04v2.21h-7.04zM906.16 268.66h2.35v2.21h-2.35zM913.2 268.66h23.46v2.21h-23.46zM838.12 270.87h2.35v2.21h-2.35zM849.85 270.87h14.08v2.21h-14.08zM873.32 270.87h2.35v2.21h-2.35zM878.01 270.87h2.35v2.21h-2.35zM885.05 270.87h2.35v2.21h-2.35zM892.09 270.87h2.35v2.21h-2.35zM896.78 270.87h7.04v2.21h-7.04zM910.86 270.87h2.35v2.21h-2.35zM915.55 270.87h4.69v2.21h-4.69zM931.97 270.87h2.35v2.21h-2.35zM835.78 273.07h2.35v2.21h-2.35zM842.81 273.07h4.69v2.21h-4.69zM849.85 273.07h2.35v2.21h-2.35zM854.55 273.07h7.04v2.21h-7.04zM863.93 273.07h9.39v2.21h-9.39zM882.7 273.07h2.35v2.21h-2.35zM887.39 273.07h2.35v2.21h-2.35zM896.78 273.07h2.35v2.21h-2.35zM906.16 273.07h9.39v2.21h-9.39zM927.28 273.07h7.04v2.21h-7.04zM831.08 275.28h14.08v2.21h-14.08zM847.51 275.28h4.69v2.21h-4.69zM861.59 275.28h7.04v2.21h-7.04zM870.97 275.28h2.35v2.21h-2.35zM878.01 275.28h2.35v2.21h-2.35zM882.7 275.28h2.35v2.21h-2.35zM887.39 275.28h7.04v2.21h-7.04zM899.13 275.28h7.04v2.21h-7.04zM908.51 275.28h7.04v2.21h-7.04zM917.9 275.28h2.35v2.21h-2.35zM922.59 275.28h4.69v2.21h-4.69zM929.63 275.28h4.69v2.21h-4.69zM831.08 277.49h2.35v2.21h-2.35zM842.81 277.49h7.04v2.21h-7.04zM852.2 277.49h2.35v2.21h-2.35zM856.89 277.49h7.04v2.21h-7.04zM868.62 277.49h2.35v2.21h-2.35zM873.32 277.49h4.69v2.21h-4.69zM887.39 277.49h7.04v2.21h-7.04zM901.47 277.49h4.69v2.21h-4.69zM910.86 277.49h4.69v2.21h-4.69zM917.9 277.49h7.04v2.21h-7.04zM929.63 277.49h7.04v2.21h-7.04zM831.08 279.69h2.35v2.21h-2.35zM835.78 279.69h7.04v2.21h-7.04zM847.51 279.69h2.35v2.21h-2.35zM852.2 279.69h4.69v2.21h-4.69zM863.93 279.69h4.69v2.21h-4.69zM870.97 279.69h11.73v2.21h-11.73zM892.09 279.69h4.69v2.21h-4.69zM899.13 279.69h2.35v2.21h-2.35zM906.16 279.69h2.35v2.21h-2.35zM913.2 279.69h4.69v2.21h-4.69zM934.32 279.69h2.35v2.21h-2.35zM831.08 281.9h2.35v2.21h-2.35zM835.78 281.9h4.69v2.21h-4.69zM845.16 281.9h9.39v2.21h-9.39zM856.89 281.9h2.35v2.21h-2.35zM863.93 281.9h2.35v2.21h-2.35zM870.97 281.9h4.69v2.21h-4.69zM878.01 281.9h2.35v2.21h-2.35zM882.7 281.9h2.35v2.21h-2.35zM892.09 281.9h2.35v2.21h-2.35zM910.86 281.9h2.35v2.21h-2.35zM915.55 281.9h2.35v2.21h-2.35zM920.24 281.9h2.35v2.21h-2.35zM924.94 281.9h2.35v2.21h-2.35zM929.63 281.9h7.04v2.21h-7.04zM831.08 284.11h9.39v2.21h-9.39zM842.81 284.11h2.35v2.21h-2.35zM847.51 284.11h2.35v2.21h-2.35zM856.89 284.11h2.35v2.21h-2.35zM861.59 284.11h7.04v2.21h-7.04zM875.66 284.11h2.35v2.21h-2.35zM880.36 284.11h2.35v2.21h-2.35zM885.05 284.11h2.35v2.21h-2.35zM894.43 284.11h4.69v2.21h-4.69zM901.47 284.11h2.35v2.21h-2.35zM906.16 284.11h2.35v2.21h-2.35zM910.86 284.11h14.08v2.21h-14.08zM927.28 284.11h9.39v2.21h-9.39zM831.08 286.31h2.35v2.21h-2.35zM838.12 286.31h2.35v2.21h-2.35zM845.16 286.31h2.35v2.21h-2.35zM854.55 286.31h2.35v2.21h-2.35zM861.59 286.31h4.69v2.21h-4.69zM870.97 286.31h9.39v2.21h-9.39zM882.7 286.31h4.69v2.21h-4.69zM892.09 286.31h2.35v2.21h-2.35zM910.86 286.31h2.35v2.21h-2.35zM920.24 286.31h2.35v2.21h-2.35zM927.28 286.31h9.39v2.21h-9.39zM831.08 288.52h11.73v2.21h-11.73zM847.51 288.52h2.35v2.21h-2.35zM852.2 288.52h2.35v2.21h-2.35zM861.59 288.52h4.69v2.21h-4.69zM868.62 288.52h2.35v2.21h-2.35zM875.66 288.52h2.35v2.21h-2.35zM885.05 288.52h2.35v2.21h-2.35zM892.09 288.52h2.35v2.21h-2.35zM896.78 288.52h2.35v2.21h-2.35zM903.82 288.52h2.35v2.21h-2.35zM908.51 288.52h4.69v2.21h-4.69zM917.9 288.52h7.04v2.21h-7.04zM929.63 288.52h2.35v2.21h-2.35zM934.32 288.52h2.35v2.21h-2.35zM833.43 290.73h2.35v2.21h-2.35zM845.16 290.73h7.04v2.21h-7.04zM859.24 290.73h2.35v2.21h-2.35zM868.62 290.73h9.39v2.21h-9.39zM903.82 290.73h2.35v2.21h-2.35zM908.51 290.73h2.35v2.21h-2.35zM913.2 290.73h7.04v2.21h-7.04zM927.28 290.73h2.35v2.21h-2.35zM831.08 292.93h11.73v2.21h-11.73zM847.51 292.93h2.35v2.21h-2.35zM852.2 292.93h4.69v2.21h-4.69zM863.93 292.93h7.04v2.21h-7.04zM878.01 292.93h7.04v2.21h-7.04zM887.39 292.93h9.39v2.21h-9.39zM899.13 292.93h2.35v2.21h-2.35zM903.82 292.93h2.35v2.21h-2.35zM908.51 292.93h4.69v2.21h-4.69zM915.55 292.93h2.35v2.21h-2.35zM920.24 292.93h4.69v2.21h-4.69zM934.32 292.93h2.35v2.21h-2.35zM835.78 295.14h2.35v2.21h-2.35zM840.47 295.14h2.35v2.21h-2.35zM845.16 295.14h7.04v2.21h-7.04zM856.89 295.14h4.69v2.21h-4.69zM863.93 295.14h2.35v2.21h-2.35zM868.62 295.14h7.04v2.21h-7.04zM878.01 295.14h11.73v2.21h-11.73zM894.43 295.14h4.69v2.21h-4.69zM908.51 295.14h4.69v2.21h-4.69zM915.55 295.14h11.73v2.21h-11.73zM931.97 295.14h4.69v2.21h-4.69zM849.85 297.35h4.69v2.21h-4.69zM861.59 297.35h2.35v2.21h-2.35zM873.32 297.35h2.35v2.21h-2.35zM878.01 297.35h2.35v2.21h-2.35zM887.39 297.35h2.35v2.21h-2.35zM894.43 297.35h2.35v2.21h-2.35zM901.47 297.35h2.35v2.21h-2.35zM908.51 297.35h9.39v2.21h-9.39zM924.94 297.35h2.35v2.21h-2.35zM929.63 297.35h2.35v2.21h-2.35zM831.08 299.55h16.42v2.21h-16.42zM849.85 299.55h2.35v2.21h-2.35zM854.55 299.55h2.35v2.21h-2.35zM859.24 299.55h4.69v2.21h-4.69zM866.28 299.55h4.69v2.21h-4.69zM875.66 299.55h4.69v2.21h-4.69zM882.7 299.55h2.35v2.21h-2.35zM887.39 299.55h2.35v2.21h-2.35zM894.43 299.55h2.35v2.21h-2.35zM899.13 299.55h2.35v2.21h-2.35zM903.82 299.55h2.35v2.21h-2.35zM915.55 299.55h2.35v2.21h-2.35zM920.24 299.55h2.35v2.21h-2.35zM924.94 299.55h4.69v2.21h-4.69zM934.32 299.55h2.35v2.21h-2.35zM831.08 301.76h2.35v2.21h-2.35zM845.16 301.76h2.35v2.21h-2.35zM859.24 301.76h7.04v2.21h-7.04zM870.97 301.76h9.39v2.21h-9.39zM887.39 301.76h2.35v2.21h-2.35zM899.13 301.76h4.69v2.21h-4.69zM910.86 301.76h2.35v2.21h-2.35zM915.55 301.76h2.35v2.21h-2.35zM924.94 301.76h11.73v2.21h-11.73zM831.08 303.97h2.35v2.21h-2.35zM835.78 303.97h7.04v2.21h-7.04zM845.16 303.97h2.35v2.21h-2.35zM854.55 303.97h7.04v2.21h-7.04zM868.62 303.97h4.69v2.21h-4.69zM875.66 303.97h14.08v2.21h-14.08zM892.09 303.97h2.35v2.21h-2.35zM896.78 303.97h9.39v2.21h-9.39zM908.51 303.97h18.77v2.21h-18.77zM931.97 303.97h4.69v2.21h-4.69zM831.08 306.17h2.35v2.21h-2.35zM835.78 306.17h7.04v2.21h-7.04zM845.16 306.17h2.35v2.21h-2.35zM849.85 306.17h2.35v2.21h-2.35zM854.55 306.17h2.35v2.21h-2.35zM859.24 306.17h2.35v2.21h-2.35zM863.93 306.17h2.35v2.21h-2.35zM868.62 306.17h7.04v2.21h-7.04zM880.36 306.17h4.69v2.21h-4.69zM887.39 306.17h2.35v2.21h-2.35zM892.09 306.17h4.69v2.21h-4.69zM901.47 306.17h7.04v2.21h-7.04zM910.86 306.17h7.04v2.21h-7.04zM927.28 306.17h4.69v2.21h-4.69zM934.32 306.17h2.35v2.21h-2.35zM831.08 308.38h2.35v2.21h-2.35zM835.78 308.38h7.04v2.21h-7.04zM845.16 308.38h2.35v2.21h-2.35zM852.2 308.38h2.35v2.21h-2.35zM856.89 308.38h4.69v2.21h-4.69zM863.93 308.38h7.04v2.21h-7.04zM873.32 308.38h2.35v2.21h-2.35zM878.01 308.38h2.35v2.21h-2.35zM882.7 308.38h2.35v2.21h-2.35zM892.09 308.38h2.35v2.21h-2.35zM896.78 308.38h2.35v2.21h-2.35zM901.47 308.38h2.35v2.21h-2.35zM908.51 308.38h2.35v2.21h-2.35zM917.9 308.38h2.35v2.21h-2.35zM922.59 308.38h9.39v2.21h-9.39zM934.32 308.38h2.35v2.21h-2.35zM831.08 310.59h2.35v2.21h-2.35zM845.16 310.59h2.35v2.21h-2.35zM849.85 310.59h2.35v2.21h-2.35zM856.89 310.59h7.04v2.21h-7.04zM866.28 310.59h9.39v2.21h-9.39zM880.36 310.59h2.35v2.21h-2.35zM887.39 310.59h2.35v2.21h-2.35zM894.43 310.59h4.69v2.21h-4.69zM903.82 310.59h2.35v2.21h-2.35zM910.86 310.59h9.39v2.21h-9.39zM931.97 310.59h2.35v2.21h-2.35zM831.08 312.79h16.42v2.21h-16.42zM849.85 312.79h2.35v2.21h-2.35zM854.55 312.79h4.69v2.21h-4.69zM875.66 312.79h2.35v2.21h-2.35zM880.36 312.79h2.35v2.21h-2.35zM885.05 312.79h2.35v2.21h-2.35zM894.43 312.79h2.35v2.21h-2.35zM899.13 312.79h2.35v2.21h-2.35zM903.82 312.79h4.69v2.21h-4.69zM910.86 312.79h2.35v2.21h-2.35zM920.24 312.79h4.69v2.21h-4.69zM927.28 312.79h9.39v2.21h-9.39z" fill="#000"/>
<rect x="847.5" y="238.5" width="72.5" height="19.5" rx="9" fill="#fff"/>
<rect x="850.0" y="276.5" width="68.67" height="21.5" rx="10" fill="#fff"/>
<rect x="245.75" y="431.8" width="702.25" height="1.1" fill="#a09aa0" />
<rect x="246.67" y="434" width="699.83" height="239" fill="#fdeafd" />
<rect x="736.67" y="434" width="209.83" height="180.5" fill="#fac6d6" />
<text x="257.33" y="448.5" textLength="79.75" lengthAdjust="spacingAndGlyphs" fill="#222" style="font-family:'DejaVu Sans','Noto Sans Devanagari','Noto Sans CJK SC',sans-serif;font-size:12.2px;font-weight:bold" >मागील वीज वापर</text>
<rect x="288.5" y="460.5" width="438.33" height="175.5" fill="#fffdf6" />
<rect x="288.5" y="600.4" width="438.33" height="1.0" fill="#d2d0cc" />
<rect x="288.5" y="565.3" width="438.33" height="1.0" fill="#d2d0cc" />
<rect x="288.5" y="530.2" width="438.33" height="1.0" fill="#d2d0cc" />
<rect x="288.5" y="495.1" width="438.33" height="1.0" fill="#d2d0cc" />
<rect x="324.53" y="460.5" width="1.0" height="175.5" fill="#d2d0cc" />
<rect x="361.06" y="460.5" width="1.0" height="175.5" fill="#d2d0cc" />
<rect x="397.58" y="460.5" width="1.0" height="175.5" fill="#d2d0cc" />
<rect x="434.11" y="460.5" width="1.0" height="175.5" fill="#d2d0cc" />
<rect x="470.64" y="460.5" width="1.0" height="175.5" fill="#d2d0cc" />
<rect x="507.17" y="460.5" width="1.0" height="175.5" fill="#d2d0cc" />
<rect x="543.69" y="460.5" width="1.0" height="175.5" fill="#d2d0cc" />
<rect x="580.22" y="460.5" width="1.0" height="175.5" fill="#d2d0cc" />
<rect x="616.75" y="460.5" width="1.0" height="175.5" fill="#d2d0cc" />
<rect x="653.28" y="460.5" width="1.0" height="175.5" fill="#d2d0cc" />
<rect x="689.81" y="460.5" width="1.0" height="175.5" fill="#d2d0cc" />
<rect x="297.97" y="597.95" width="19.58" height="38.05" fill="#000" fill-opacity="0.1"/>
<rect x="299.47" y="599.21" width="19.58" height="36.79" fill="#000" fill-opacity="0.09"/>
<rect x="300.97" y="600.47" width="19.58" height="35.53" fill="#000" fill-opacity="0.08"/>
<rect x="302.47" y="601.73" width="19.58" height="34.27" fill="#000" fill-opacity="0.07"/>
<rect x="303.97" y="602.99" width="19.58" height="33.01" fill="#000" fill-opacity="0.05"/>
<rect x="296.47" y="596.688" width="19.58" height="39.31" fill="#4bb2c5" />
<text x="306.68" y="589.19" text-anchor="middle" fill="#555" style="font-family:'DejaVu Sans',Verdana,sans-serif;font-size:8.2px" letter-spacing="0.3" stroke="#555" stroke-width="0.15">112</text>
<rect x="334.5" y="603.21" width="19.58" height="32.79" fill="#000" fill-opacity="0.1"/>
<rect x="336.0" y="604.47" width="19.58" height="31.53" fill="#000" fill-opacity="0.09"/>
<rect x="337.5" y="605.73" width="19.58" height="30.27" fill="#000" fill-opacity="0.08"/>
<rect x="339.0" y="606.99" width="19.58" height="29.01" fill="#000" fill-opacity="0.07"/>
<rect x="340.5" y="608.25" width="19.58" height="27.75" fill="#000" fill-opacity="0.05"/>
<rect x="333.0" y="601.953" width="19.58" height="34.05" fill="#4bb2c5" />
<text x="343.21" y="594.45" text-anchor="middle" fill="#555" style="font-family:'DejaVu Sans',Verdana,sans-serif;font-size:8.2px" letter-spacing="0.3" stroke="#555" stroke-width="0.15">97</text>
<rect x="371.03" y="605.32" width="19.58" height="30.68" fill="#000" fill-opacity="0.1"/>
<rect x="372.53" y="606.58" width="19.58" height="29.42" fill="#000" fill-opacity="0.09"/>
<rect x="374.03" y="607.84" width="19.58" height="28.16" fill="#000" fill-opacity="0.08"/>
<rect x="375.53" y="609.1" width="19.58" height="26.9" fill="#000" fill-opacity="0.07"/>
<rect x="377.03" y="610.36" width="19.58" height="25.64" fill="#000" fill-opacity="0.05"/>
<rect x="369.53" y="604.059" width="19.58" height="31.94" fill="#4bb2c5" />
<text x="379.74" y="596.56" text-anchor="middle" fill="#555" style="font-family:'DejaVu Sans',Verdana,sans-serif;font-size:8.2px" letter-spacing="0.3" stroke="#555" stroke-width="0.15">91</text>
<rect x="407.56" y="609.53" width="19.58" height="26.47" fill="#000" fill-opacity="0.1"/>
<rect x="409.06" y="610.79" width="19.58" height="25.21" fill="#000" fill-opacity="0.09"/>
<rect x="410.56" y="612.05" width="19.58" height="23.95" fill="#000" fill-opacity="0.08"/>
<rect x="412.06" y="613.31" width="19.58" height="22.69" fill="#000" fill-opacity="0.07"/>
<rect x="413.56" y="614.57" width="19.58" height="21.43" fill="#000" fill-opacity="0.05"/>
<rect x="406.06" y="608.271" width="19.58" height="27.73" fill="#4bb2c5" />
<text x="416.26" y="600.77" text-anchor="middle" fill="#555" style="font-family:'DejaVu Sans',Verdana,sans-serif;font-size:8.2px" letter-spacing="0.3" stroke="#555" stroke-width="0.15">79</text>
<rect x="444.08" y="600.4" width="19.58" height="35.6" fill="#000" fill-opacity="0.1"/>
<rect x="445.58" y="601.66" width="19.58" height="34.34" fill="#000" fill-opacity="0.09"/>
<rect x="447.08" y="602.92" width="19.58" height="33.08" fill="#000" fill-opacity="0.08"/>
<rect x="448.58" y="604.18" width="19.58" height="31.82" fill="#000" fill-opacity="0.07"/>
<rect x="450.08" y="605.44" width="19.58" height="30.56" fill="#000" fill-opacity="0.05"/>
<rect x="442.58" y="599.145" width="19.58" height="36.86" fill="#4bb2c5" />
<text x="452.79" y="591.64" text-anchor="middle" fill="#555" style="font-family:'DejaVu Sans',Verdana,sans-serif;font-size:8.2px" letter-spacing="0.3" stroke="#555" stroke-width="0.15">105</text>
<rect x="480.61" y="602.86" width="19.58" height="33.14" fill="#000" fill-opacity="0.1"/>
<rect x="482.11" y="604.12" width="19.58" height="31.88" fill="#000" fill-opacity="0.09"/>
<rect x="483.61" y="605.38" width="19.58" height="30.62" fill="#000" fill-opacity="0.08"/>
<rect x="485.11" y="606.64" width="19.58" height="29.36" fill="#000" fill-opacity="0.07"/>
<rect x="486.61" y="607.9" width="19.58" height="28.1" fill="#000" fill-opacity="0.05"/>
<rect x="479.11" y="601.602" width="19.58" height="34.4" fill="#4bb2c5" />
<text x="489.32" y="594.1" text-anchor="middle" fill="#555" style="font-family:'DejaVu Sans',Verdana,sans-serif;font-size:8.2px" letter-spacing="0.3" stroke="#555" stroke-width="0.15">98</text>
<rect x="517.14" y="486.68" width="19.58" height="149.32" fill="#000" fill-opacity="0.1"/>
<rect x="518.64" y="487.94" width="19.58" height="148.06" fill="#000" fill-opacity="0.09"/>
<rect x="520.14" y="489.2" width="19.58" height="146.8" fill="#000" fill-opacity="0.08"/>
<rect x="521.64" y="490.46" width="19.58" height="145.54" fill="#000" fill-opacity="0.07"/>
<rect x="523.14" y="491.72" width="19.58" height="144.28" fill="#000" fill-opacity="0.05"/>
<rect x="515.64" y="485.42100000000005" width="19.58" height="150.58" fill="#4bb2c5" />
<text x="525.85" y="477.92" text-anchor="middle" fill="#555" style="font-family:'DejaVu Sans',Verdana,sans-serif;font-size:8.2px" letter-spacing="0.3" stroke="#555" stroke-width="0.15">429</text>
<rect x="553.67" y="628.13" width="19.58" height="7.87" fill="#000" fill-opacity="0.1"/>
<rect x="555.17" y="629.39" width="19.58" height="6.61" fill="#000" fill-opacity="0.09"/>
<rect x="556.67" y="630.65" width="19.58" height="5.35" fill="#000" fill-opacity="0.08"/>
<rect x="558.17" y="631.91" width="19.58" height="4.09" fill="#000" fill-opacity="0.07"/>
<rect x="559.67" y="633.17" width="19.58" height="2.83" fill="#000" fill-opacity="0.05"/>
<rect x="552.17" y="626.874" width="19.58" height="9.13" fill="#4bb2c5" />
<text x="562.38" y="619.37" text-anchor="middle" fill="#555" style="font-family:'DejaVu Sans',Verdana,sans-serif;font-size:8.2px" letter-spacing="0.3" stroke="#555" stroke-width="0.15">26</text>
<rect x="590.19" y="628.13" width="19.58" height="7.87" fill="#000" fill-opacity="0.1"/>
<rect x="591.69" y="629.39" width="19.58" height="6.61" fill="#000" fill-opacity="0.09"/>
<rect x="593.19" y="630.65" width="19.58" height="5.35" fill="#000" fill-opacity="0.08"/>
<rect x="594.69" y="631.91" width="19.58" height="4.09" fill="#000" fill-opacity="0.07"/>
<rect x="596.19" y="633.17" width="19.58" height="2.83" fill="#000" fill-opacity="0.05"/>
<rect x="588.69" y="626.874" width="19.58" height="9.13" fill="#4bb2c5" />
<text x="598.9" y="619.37" text-anchor="middle" fill="#555" style="font-family:'DejaVu Sans',Verdana,sans-serif;font-size:8.2px" letter-spacing="0.3" stroke="#555" stroke-width="0.15">26</text>
<rect x="626.72" y="628.13" width="19.58" height="7.87" fill="#000" fill-opacity="0.1"/>
<rect x="628.22" y="629.39" width="19.58" height="6.61" fill="#000" fill-opacity="0.09"/>
<rect x="629.72" y="630.65" width="19.58" height="5.35" fill="#000" fill-opacity="0.08"/>
<rect x="631.22" y="631.91" width="19.58" height="4.09" fill="#000" fill-opacity="0.07"/>
<rect x="632.72" y="633.17" width="19.58" height="2.83" fill="#000" fill-opacity="0.05"/>
<rect x="625.22" y="626.874" width="19.58" height="9.13" fill="#4bb2c5" />
<text x="635.43" y="619.37" text-anchor="middle" fill="#555" style="font-family:'DejaVu Sans',Verdana,sans-serif;font-size:8.2px" letter-spacing="0.3" stroke="#555" stroke-width="0.15">26</text>
<rect x="663.25" y="628.13" width="19.58" height="7.87" fill="#000" fill-opacity="0.1"/>
<rect x="664.75" y="629.39" width="19.58" height="6.61" fill="#000" fill-opacity="0.09"/>
<rect x="666.25" y="630.65" width="19.58" height="5.35" fill="#000" fill-opacity="0.08"/>
<rect x="667.75" y="631.91" width="19.58" height="4.09" fill="#000" fill-opacity="0.07"/>
<rect x="669.25" y="633.17" width="19.58" height="2.83" fill="#000" fill-opacity="0.05"/>
<rect x="661.75" y="626.874" width="19.58" height="9.13" fill="#4bb2c5" />
<text x="671.96" y="619.37" text-anchor="middle" fill="#555" style="font-family:'DejaVu Sans',Verdana,sans-serif;font-size:8.2px" letter-spacing="0.3" stroke="#555" stroke-width="0.15">26</text>
<rect x="699.78" y="635.86" width="19.58" height="0.14" fill="#000" fill-opacity="0.1"/>
<rect x="701.28" y="637.12" width="19.58" height="-1.12" fill="#000" fill-opacity="0.09"/>
<rect x="702.78" y="638.38" width="19.58" height="-2.38" fill="#000" fill-opacity="0.08"/>
<rect x="704.28" y="639.64" width="19.58" height="-3.64" fill="#000" fill-opacity="0.07"/>
<rect x="705.78" y="640.9" width="19.58" height="-4.9" fill="#000" fill-opacity="0.05"/>
<rect x="698.28" y="634.596" width="19.58" height="1.4" fill="#4bb2c5" />
<text x="708.49" y="627.1" text-anchor="middle" fill="#555" style="font-family:'DejaVu Sans',Verdana,sans-serif;font-size:8.2px" letter-spacing="0.3" stroke="#555" stroke-width="0.15">4</text>
<rect x="288.5" y="460.5" width="438.33" height="175.5" fill="none" stroke="#8f8f8f" stroke-width="1.5"/>
<rect x="282.25" y="635.4" width="6.25" height="1.2" fill="#999" />
<text x="276.83" y="639.9" text-anchor="end" fill="#6e6e6e" stroke="#6e6e6e" stroke-width="0.2" style="font-family:'DejaVu Sans',Verdana,sans-serif;font-size:10.6px">0</text>
<rect x="282.25" y="600.3" width="6.25" height="1.2" fill="#999" />
<text x="276.83" y="604.8" text-anchor="end" fill="#6e6e6e" stroke="#6e6e6e" stroke-width="0.2" style="font-family:'DejaVu Sans',Verdana,sans-serif;font-size:10.6px">100</text>
<rect x="282.25" y="565.1999999999999" width="6.25" height="1.2" fill="#999" />
<text x="276.83" y="569.7" text-anchor="end" fill="#6e6e6e" stroke="#6e6e6e" stroke-width="0.2" style="font-family:'DejaVu Sans',Verdana,sans-serif;font-size:10.6px">200</text>
<rect x="282.25" y="530.1" width="6.25" height="1.2" fill="#999" />
<text x="276.83" y="534.6" text-anchor="end" fill="#6e6e6e" stroke="#6e6e6e" stroke-width="0.2" style="font-family:'DejaVu Sans',Verdana,sans-serif;font-size:10.6px">300</text>
<rect x="282.25" y="495.0" width="6.25" height="1.2" fill="#999" />
<text x="276.83" y="499.5" text-anchor="end" fill="#6e6e6e" stroke="#6e6e6e" stroke-width="0.2" style="font-family:'DejaVu Sans',Verdana,sans-serif;font-size:10.6px">400</text>
<rect x="282.25" y="459.9" width="6.25" height="1.2" fill="#999" />
<text x="276.83" y="464.4" text-anchor="end" fill="#6e6e6e" stroke="#6e6e6e" stroke-width="0.2" style="font-family:'DejaVu Sans',Verdana,sans-serif;font-size:10.6px">500</text>
<rect x="288.0" y="636" width="1.0" height="4" fill="#999" />
<rect x="324.53" y="636" width="1.0" height="4" fill="#999" />
<rect x="361.06" y="636" width="1.0" height="4" fill="#999" />
<rect x="397.58" y="636" width="1.0" height="4" fill="#999" />
<rect x="434.11" y="636" width="1.0" height="4" fill="#999" />
<rect x="470.64" y="636" width="1.0" height="4" fill="#999" />
<rect x="507.17" y="636" width="1.0" height="4" fill="#999" />
<rect x="543.69" y="636" width="1.0" height="4" fill="#999" />
<rect x="580.22" y="636" width="1.0" height="4" fill="#999" />
<rect x="616.75" y="636" width="1.0" height="4" fill="#999" />
<rect x="653.28" y="636" width="1.0" height="4" fill="#999" />
<rect x="689.81" y="636" width="1.0" height="4" fill="#999" />
<rect x="726.33" y="636" width="1.0" height="4" fill="#999" />
<text transform="translate(308.68,652.2) rotate(-26)" text-anchor="end" fill="#777" stroke="#777" stroke-width="0.25" style="font-family:'DejaVu Sans','Noto Sans Devanagari','Noto Sans CJK SC',sans-serif;font-size:11.2px">जानेवारी<tspan dx="5.5" style="font-family:'DejaVu Sans',Verdana,sans-serif;font-size:8.4px" letter-spacing="0.8">2021</tspan></text>
<text transform="translate(345.21,652.2) rotate(-26)" text-anchor="end" fill="#777" stroke="#777" stroke-width="0.25" style="font-family:'DejaVu Sans','Noto Sans Devanagari','Noto Sans CJK SC',sans-serif;font-size:11.2px">डिसेंबर<tspan dx="5.5" style="font-family:'DejaVu Sans',Verdana,sans-serif;font-size:8.4px" letter-spacing="0.8">2020</tspan></text>
<text transform="translate(381.74,652.2) rotate(-26)" text-anchor="end" fill="#777" stroke="#777" stroke-width="0.25" style="font-family:'DejaVu Sans','Noto Sans Devanagari','Noto Sans CJK SC',sans-serif;font-size:11.2px">नोव्हेंबर<tspan dx="5.5" style="font-family:'DejaVu Sans',Verdana,sans-serif;font-size:8.4px" letter-spacing="0.8">2020</tspan></text>
<text transform="translate(418.26,652.2) rotate(-26)" text-anchor="end" fill="#777" stroke="#777" stroke-width="0.25" style="font-family:'DejaVu Sans','Noto Sans Devanagari','Noto Sans CJK SC',sans-serif;font-size:11.2px">ऑक्टोबर<tspan dx="5.5" style="font-family:'DejaVu Sans',Verdana,sans-serif;font-size:8.4px" letter-spacing="0.8">2020</tspan></text>
<text transform="translate(454.79,652.2) rotate(-26)" text-anchor="end" fill="#777" stroke="#777" stroke-width="0.25" style="font-family:'DejaVu Sans','Noto Sans Devanagari','Noto Sans CJK SC',sans-serif;font-size:11.2px">सप्टेंबर<tspan dx="5.5" style="font-family:'DejaVu Sans',Verdana,sans-serif;font-size:8.4px" letter-spacing="0.8">2020</tspan></text>
<text transform="translate(491.32,652.2) rotate(-26)" text-anchor="end" fill="#777" stroke="#777" stroke-width="0.25" style="font-family:'DejaVu Sans','Noto Sans Devanagari','Noto Sans CJK SC',sans-serif;font-size:11.2px">ऑगस्ट<tspan dx="5.5" style="font-family:'DejaVu Sans',Verdana,sans-serif;font-size:8.4px" letter-spacing="0.8">2020</tspan></text>
<text transform="translate(527.85,652.2) rotate(-26)" text-anchor="end" fill="#777" stroke="#777" stroke-width="0.25" style="font-family:'DejaVu Sans','Noto Sans Devanagari','Noto Sans CJK SC',sans-serif;font-size:11.2px">जुलै<tspan dx="5.5" style="font-family:'DejaVu Sans',Verdana,sans-serif;font-size:8.4px" letter-spacing="0.8">2020</tspan></text>
<text transform="translate(564.38,652.2) rotate(-26)" text-anchor="end" fill="#777" stroke="#777" stroke-width="0.25" style="font-family:'DejaVu Sans','Noto Sans Devanagari','Noto Sans CJK SC',sans-serif;font-size:11.2px">जून<tspan dx="5.5" style="font-family:'DejaVu Sans',Verdana,sans-serif;font-size:8.4px" letter-spacing="0.8">2020</tspan></text>
<text transform="translate(600.9,652.2) rotate(-26)" text-anchor="end" fill="#777" stroke="#777" stroke-width="0.25" style="font-family:'DejaVu Sans','Noto Sans Devanagari','Noto Sans CJK SC',sans-serif;font-size:11.2px">मे<tspan dx="5.5" style="font-family:'DejaVu Sans',Verdana,sans-serif;font-size:8.4px" letter-spacing="0.8">2020</tspan></text>
<text transform="translate(637.43,652.2) rotate(-26)" text-anchor="end" fill="#777" stroke="#777" stroke-width="0.25" style="font-family:'DejaVu Sans','Noto Sans Devanagari','Noto Sans CJK SC',sans-serif;font-size:11.2px">एप्रिल<tspan dx="5.5" style="font-family:'DejaVu Sans',Verdana,sans-serif;font-size:8.4px" letter-spacing="0.8">2020</tspan></text>
<text transform="translate(673.96,652.2) rotate(-26)" text-anchor="end" fill="#777" stroke="#777" stroke-width="0.25" style="font-family:'DejaVu Sans','Noto Sans Devanagari','Noto Sans CJK SC',sans-serif;font-size:11.2px">मार्च<tspan dx="5.5" style="font-family:'DejaVu Sans',Verdana,sans-serif;font-size:8.4px" letter-spacing="0.8">2020</tspan></text>
<text transform="translate(710.49,652.2) rotate(-26)" text-anchor="end" fill="#777" stroke="#777" stroke-width="0.25" style="font-family:'DejaVu Sans','Noto Sans Devanagari','Noto Sans CJK SC',sans-serif;font-size:11.2px">फेब्रुवारी<tspan dx="5.5" style="font-family:'DejaVu Sans',Verdana,sans-serif;font-size:8.4px" letter-spacing="0.8">2020</tspan></text>
<text x="747.67" y="449" stroke="#8a6a6a" stroke-width="0.22" textLength="159.67" lengthAdjust="spacingAndGlyphs" fill="#8a6a6a" style="font-family:'DejaVu Sans','Noto Sans Devanagari','Noto Sans CJK SC',sans-serif;font-size:12.2px;font-weight:normal" >* मध्यवर्ती तक्रार निवारण केंद्र 24*7</text>
<text x="746.83" y="465.7" textLength="181.5" lengthAdjust="spacingAndGlyphs" fill="#b03a3a" style="font-family:'DejaVu Sans',Verdana,sans-serif;font-size:16px;font-weight:bold" >MSEDCL Call Center:</text>
<text x="746.83" y="483.6" textLength="123.5" lengthAdjust="spacingAndGlyphs" fill="#b03a3a" style="font-family:'DejaVu Sans',Verdana,sans-serif;font-size:16px;font-weight:bold" >18002333435</text>
<text x="746.83" y="501.3" textLength="123.5" lengthAdjust="spacingAndGlyphs" fill="#b03a3a" style="font-family:'DejaVu Sans',Verdana,sans-serif;font-size:16px;font-weight:bold" >18001023435</text>
<text x="746.83" y="519.3" textLength="44.83" lengthAdjust="spacingAndGlyphs" fill="#b03a3a" style="font-family:'DejaVu Sans',Verdana,sans-serif;font-size:16px;font-weight:bold" >1912</text>
<text x="747.5" y="532.5" stroke="#a84040" stroke-width="0.22" textLength="195.42" lengthAdjust="spacingAndGlyphs" fill="#a84040" style="font-family:'DejaVu Sans','Noto Sans Devanagari','Noto Sans CJK SC',sans-serif;font-size:11.4px;font-weight:normal" >ग्राहकांच्या तक्रारीचे निवारण करण्यासंबंधीचे नियम व</text>
<text x="747.5" y="544" stroke="#a84040" stroke-width="0.22" textLength="97.5" lengthAdjust="spacingAndGlyphs" fill="#a84040" style="font-family:'DejaVu Sans','Noto Sans Devanagari','Noto Sans CJK SC',sans-serif;font-size:11.4px;font-weight:normal" >कार्यपद्धति महावितरणच्या</text>
<text x="747.5" y="555.5" stroke="#a84040" stroke-width="0.22" textLength="50.0" lengthAdjust="spacingAndGlyphs" fill="#a84040" style="font-family:'DejaVu Sans','Noto Sans Devanagari','Noto Sans CJK SC',sans-serif;font-size:11.4px;font-weight:normal" >संकेत स्थळ:-</text>
<text x="747.5" y="565.6" textLength="115.75" lengthAdjust="spacingAndGlyphs" fill="#a84040" style="font-family:'DejaVu Sans',Verdana,sans-serif;font-size:9.6px;font-weight:bold" >www.mahadiscom.in &gt;</text>
<text x="747.5" y="575.8" textLength="120.75" lengthAdjust="spacingAndGlyphs" fill="#a84040" style="font-family:'DejaVu Sans',Verdana,sans-serif;font-size:9.6px;font-weight:bold" >ConsumerPortal &gt; CGRF</text>
<text x="747.5" y="586.5" stroke="#a84040" stroke-width="0.22" textLength="73.33" lengthAdjust="spacingAndGlyphs" fill="#a84040" style="font-family:'DejaVu Sans','Noto Sans Devanagari','Noto Sans CJK SC',sans-serif;font-size:11.4px;font-weight:normal" >यावर उपलब्ध आहे.</text>
</g>
</svg>
</body></html>
